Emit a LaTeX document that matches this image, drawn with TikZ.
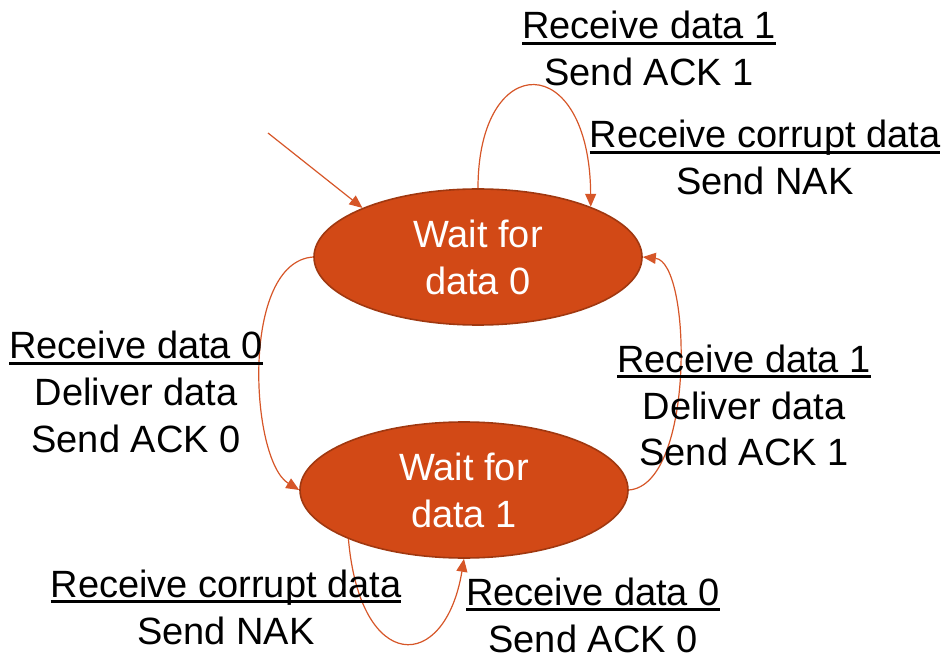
\documentclass[tikz,border=0pt]{standalone}
\usepackage{fontspec}
\setmainfont{Liberation Sans}
\usetikzlibrary{shapes.geometric,arrows.meta}
\definecolor{stateorange}{RGB}{210,73,22}
\definecolor{stateedge}{RGB}{160,56,16}
\definecolor{arcorange}{RGB}{214,86,40}
\newcommand{\ulbl}[1]{\setbox0\hbox{#1}\rlap{\rule[-2.9pt]{\wd0}{1.25pt}}\box0}
\tikzset{
  state/.style={ellipse, draw=stateedge, line width=0.8pt, fill=stateorange, text=white,
    align=center, minimum width=164pt, minimum height=68pt, inner sep=0pt,
    font=\fontsize{19}{23.5}\selectfont},
  trans/.style={draw=arcorange, line width=0.6pt, -{Triangle[length=6.5pt,width=5.5pt]}},
  lbl/.style={anchor=base, inner sep=0pt, font=\fontsize{19}{23.5}\selectfont}
}
\begin{document}
\begin{tikzpicture}[x=0.5pt,y=-0.5pt]
	\useasboundingbox (0,0) rectangle (947,657);
	\node[state] (w0) at (478,257) {Wait for\\data 0};
	\node[state] (w1) at (464,490) {Wait for\\data 1};
	\coordinate (start) at (268,133);
	\draw[trans] (start) -- (w0.157);
	\draw[trans] (w0.north) .. controls +(0,-139) and +(-1,-158) .. (w0.24);
	\draw[trans] (w0.west) .. controls (240,262) and (250,460) .. (w1.west);
	\draw[trans] (w1.east) .. controls (695,485) and (692,262) .. (w0.east);
	\draw[trans] (w1.203) .. controls (360,674) and (445,674) .. (w1.south);
	\node[lbl] (l1) at (649,39) {\begin{tabular}[t]{@{}c@{}}\ulbl{Receive data 1}\\Send ACK 1\end{tabular}};
	\node[lbl] (l2) at (765,148) {\begin{tabular}[t]{@{}c@{}}\ulbl{Receive corrupt data}\\Send NAK\end{tabular}};
	\node[lbl] (l3) at (136,359) {\begin{tabular}[t]{@{}c@{}}\ulbl{Receive data 0}\\Deliver data\\Send ACK 0\end{tabular}};
	\node[lbl] (l4) at (744,372) {\begin{tabular}[t]{@{}c@{}}\ulbl{Receive data 1}\\Deliver data\\Send ACK 1\end{tabular}};
	\node[lbl] (l5) at (226,597) {\begin{tabular}[t]{@{}c@{}}\ulbl{Receive corrupt data}\\Send NAK\end{tabular}};
	\node[lbl] (l6) at (593,605) {\begin{tabular}[t]{@{}c@{}}\ulbl{Receive data 0}\\Send ACK 0\end{tabular}};
\end{tikzpicture}
\end{document}
